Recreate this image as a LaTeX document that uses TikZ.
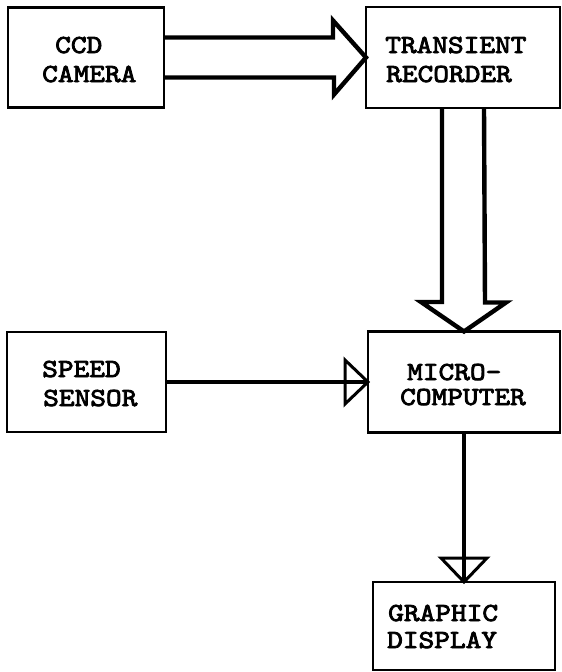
\documentclass[tikz,border=0pt]{standalone}
\usepackage{fontspec}
\newfontfamily\labfont[Extension=.otf,FakeStretch=1.15,FakeBold=3.2]{lmmono10-regular}
\usetikzlibrary{calc}
\begin{document}
\begin{tikzpicture}[x=1pt,y=-1pt,
  box/.style={draw,line width=2.6pt,rectangle,inner sep=0pt,outer sep=0pt},
  lbl/.style={anchor=base west,inner sep=0pt,font=\fontsize{26}{28}\selectfont\labfont},
  fat/.style={line width=4.4pt,line join=miter,line cap=butt},
  wire/.style={line width=4.4pt},
  tri/.style={line width=3pt,line join=miter}]
\useasboundingbox (0,0) rectangle (562,672);
% boxes
\node[box,minimum width=156pt,minimum height=100pt] (ccd) at (86,57.5) {};
\node[box,minimum width=194pt,minimum height=101pt] (tr) at (463,57.5) {};
\node[box,minimum width=159pt,minimum height=100pt] (sp) at (86.5,382) {};
\node[box,minimum width=192pt,minimum height=101pt] (mc) at (464,382) {};
\node[box,minimum width=182pt,minimum height=88pt] (gd) at (464,626) {};
% labels
\node[lbl] (t1) at (55,53) {CCD};
\node[lbl] (t2) at (42,82) {CAMERA};
\node[lbl] (t3) at (385,53) {TRANSIENT};
\node[lbl] (t4) at (386,82) {RECORDER};
\node[lbl] (t5) at (42,377) {SPEED};
\node[lbl] (t6) at (43,406) {SENSOR};
\node[lbl] (t7) at (407,380) {MICRO-};
\node[lbl] (t8) at (400,405) {COMPUTER};
\node[lbl] (t9) at (388,621) {GRAPHIC};
\node[lbl] (t10) at (387,648) {DISPLAY};
% wide arrow CCD -> transient recorder
\draw[fat] ([yshift=20pt]ccd.east) -- ++(169,0) -- ++(0,-17) -- (tr.west)
  -- ++(-32,37) -- ++(0,-17) -- ++(-169,0);
% wide arrow transient recorder -> micro-computer
\draw[fat] ([xshift=-21pt]tr.south) -- ++(0,194) -- ++(-21,0) -- (mc.north)
  -- ++(42,-29) -- ++(-21,0) -- ([xshift=21pt]tr.south);
% speed sensor -> micro-computer
\draw[wire] (sp.east) -- (mc.west);
\draw[tri] (mc.west) -- ++(-23,-22) -- ++(0,44) -- cycle;
% micro-computer -> graphic display
\draw[wire] (mc.south) -- (gd.north);
\draw[tri] (gd.north) -- ++(-23,-24) -- ++(46,0) -- cycle;
\end{tikzpicture}
\end{document}
